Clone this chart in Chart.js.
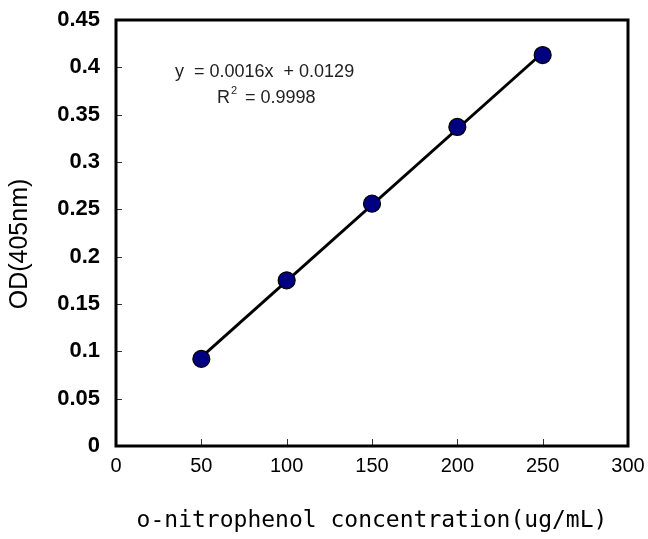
<!DOCTYPE html>
<html>
<head>
<meta charset="utf-8">
<script src="https://cdn.jsdelivr.net/npm/chart.js@4/dist/chart.umd.min.js"></script>
<style>
  html, body { margin: 0; padding: 0; background: #fff; }
</style>
</head>
<body>
<canvas id="stdCurve" width="648" height="539"></canvas>
<script>
// standard curve data
const concentrations = [50, 100, 150, 200, 250];
const odValues = [0.092, 0.175, 0.256, 0.337, 0.413];
const xTicks = [0, 50, 100, 150, 200, 250, 300];
const yTicks = [0, 0.05, 0.1, 0.15, 0.2, 0.25, 0.3, 0.35, 0.4, 0.45];
const equationLines = ['y  = 0.0016x  + 0.0129', '= 0.9998'];

// least squares fit for the trendline
function fitLine(xs, ys) {
    const n = xs.length;
    const mx = xs.reduce((a, b) => a + b, 0) / n;
    const my = ys.reduce((a, b) => a + b, 0) / n;
    let sxy = 0, sxx = 0;
    for (let i = 0; i < n; i++) {
        sxy += (xs[i] - mx) * (ys[i] - my);
        sxx += (xs[i] - mx) * (xs[i] - mx);
    }
    const slope = sxy / sxx;
    return { slope, intercept: my - slope * mx };
}
const fit = fitLine(concentrations, odValues);
const xMin = Math.min(...concentrations), xMax = Math.max(...concentrations);
const trend = [xMin, xMax].map(x => ({ x, y: fit.slope * x + fit.intercept }));

const noPad = s => { s.paddingLeft = 0; s.paddingRight = 0; s.paddingTop = 0; s.paddingBottom = 0; };

// frame + inward tick marks + equation text
const framePlugin = {
    id: 'frame',
    afterDatasetsDraw(chart) {
        const { ctx, chartArea: a, scales } = chart;
        ctx.save();
        ctx.strokeStyle = '#333';
        ctx.lineWidth = 1;
        ctx.beginPath();
        xTicks.forEach(v => {
            const px = Math.round(scales.x.getPixelForValue(v)) + 0.5;
            ctx.moveTo(px, a.bottom);
            ctx.lineTo(px, a.bottom - 7);
        });
        yTicks.forEach(v => {
            const py = Math.round(scales.y.getPixelForValue(v)) + 0.5;
            ctx.moveTo(a.left, py);
            ctx.lineTo(a.left + 6, py);
        });
        ctx.stroke();
        ctx.strokeStyle = '#000';
        ctx.lineWidth = 3;
        ctx.strokeRect(a.left, a.top, a.right - a.left, a.bottom - a.top);

        ctx.fillStyle = '#222';
        ctx.font = '18px "Liberation Sans", Arial, sans-serif';
        ctx.textBaseline = 'alphabetic';
        ctx.fillText(equationLines[0], 175, 77);
        ctx.fillText('R', 217, 103);
        ctx.font = '11px "Liberation Sans", Arial, sans-serif';
        ctx.fillText('2', 231, 94);
        ctx.font = '18px "Liberation Sans", Arial, sans-serif';
        ctx.fillText(equationLines[1], 245, 103);

        // y axis title, drawn a bit below the plot centre as in the source
        ctx.fillStyle = '#000';
        ctx.font = '25px "Liberation Sans Narrow", "Liberation Sans", Arial, sans-serif';
        ctx.textAlign = 'center';
        ctx.textBaseline = 'middle';
        ctx.translate(20, 244);
        ctx.rotate(-Math.PI / 2);
        ctx.fillText('OD(405nm)', 0, 0);
        ctx.restore();
    }
};

new Chart(document.getElementById('stdCurve'), {
    type: 'scatter',
    data: {
        datasets: [
            {
                type: 'line',
                data: trend,
                borderColor: '#000',
                borderWidth: 3,
                pointRadius: 0,
                fill: false,
                order: 2
            },
            {
                data: concentrations.map((x, i) => ({ x, y: odValues[i] })),
                backgroundColor: '#000080',
                borderColor: '#000',
                borderWidth: 1.2,
                pointRadius: 8.5,
                order: 1
            }
        ]
    },
    options: {
        responsive: false,
        animation: false,
        layout: { padding: { top: 20, right: 20, left: 0, bottom: 0 } },
        plugins: { legend: { display: false }, tooltip: { enabled: false } },
        scales: {
            x: {
                type: 'linear',
                min: 0, max: 300,
                afterBuildTicks: s => { s.ticks = xTicks.map(v => ({ value: v })); },
                afterFit: s => { s.height = 93; noPad(s); },
                grid: { display: false },
                border: { display: false },
                ticks: {
                    autoSkip: false,
                    maxRotation: 0,
                    color: '#000',
                    padding: 0,
                    font: { family: '"Liberation Sans", Arial, sans-serif', size: 20 }
                },
                title: {
                    display: true,
                    text: 'o-nitrophenol concentration(ug/mL)',
                    color: '#000',
                    padding: { top: 20 },
                    font: { family: '"DejaVu Sans Mono", monospace', size: 23 }
                }
            },
            y: {
                min: 0, max: 0.45,
                afterBuildTicks: s => { s.ticks = yTicks.map(v => ({ value: v })); },
                afterFit: s => { s.width = 116; noPad(s); },
                grid: { display: false },
                border: { display: false },
                ticks: {
                    autoSkip: false,
                    color: '#000',
                    padding: 8,
                    callback: v => String(v),
                    font: { family: '"Liberation Sans", Arial, sans-serif', size: 22, weight: 'bold' }
                },
                title: { display: false }
            }
        }
    },
    plugins: [framePlugin]
});
</script>
</body>
</html>
